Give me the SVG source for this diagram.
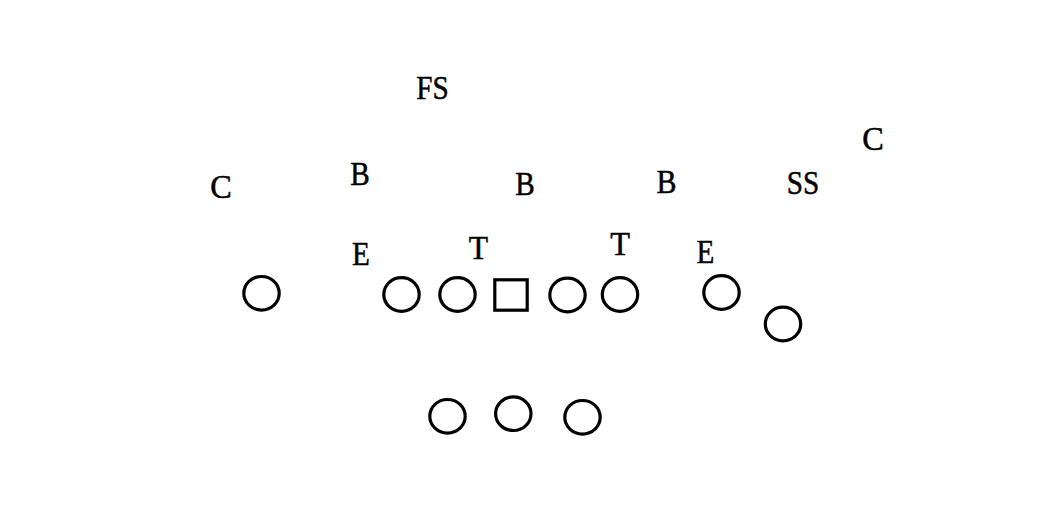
<svg xmlns="http://www.w3.org/2000/svg" width="1062" height="512" viewBox="0 0 1062 512">
<style>
.p{fill:none;stroke:#000;stroke-width:3.2}
.t{font-family:"Liberation Serif","Times New Roman",serif;font-size:34px;fill:#000;stroke:#000;stroke-width:0.5;text-anchor:middle}
</style>
<rect width="1062" height="512" fill="#fff"/>
<g id="offense">
<g id="o-wr-left"><ellipse class="p" cx="261.5" cy="293.3" rx="17.7" ry="16.8"/></g>
<g id="o-lt"><ellipse class="p" cx="401.5" cy="294.5" rx="17.7" ry="16.8"/></g>
<g id="o-lg"><ellipse class="p" cx="457.5" cy="294.5" rx="17.7" ry="16.8"/></g>
<g id="o-center"><rect class="p" x="494.8" y="279.8" width="32.4" height="30.4"/></g>
<g id="o-rg"><ellipse class="p" cx="567.5" cy="295" rx="17.7" ry="16.8"/></g>
<g id="o-rt"><ellipse class="p" cx="620" cy="294.5" rx="17.7" ry="16.8"/></g>
<g id="o-te"><ellipse class="p" cx="721.5" cy="292.5" rx="17.7" ry="16.8"/></g>
<g id="o-wr-right"><ellipse class="p" cx="783" cy="324" rx="17.7" ry="16.8"/></g>
<g id="o-back-left"><ellipse class="p" cx="447.5" cy="416.3" rx="17.7" ry="16.8"/></g>
<g id="o-back-mid"><ellipse class="p" cx="513.3" cy="413.7" rx="17.7" ry="16.8"/></g>
<g id="o-back-right"><ellipse class="p" cx="582.5" cy="417.3" rx="17.7" ry="16.8"/></g>
</g>
<g id="defense">
<g id="d-fs"><text class="t" transform="translate(432.5 99) scale(0.86 1)">FS</text></g>
<g id="d-c-left"><text class="t" transform="translate(221 197.5) scale(0.95 1)">C</text></g>
<g id="d-b-left"><text class="t" transform="translate(360 185) scale(0.86 1)">B</text></g>
<g id="d-b-mid"><text class="t" transform="translate(525 195) scale(0.86 1)">B</text></g>
<g id="d-b-right"><text class="t" transform="translate(666.5 193) scale(0.88 1)">B</text></g>
<g id="d-ss"><text class="t" transform="translate(803 193.5) scale(0.86 1)">SS</text></g>
<g id="d-c-right"><text class="t" transform="translate(873 149.5) scale(0.95 1)">C</text></g>
<g id="d-e-left"><text class="t" transform="translate(361 265) scale(0.86 1)">E</text></g>
<g id="d-t-left"><text class="t" transform="translate(478.5 258.5) scale(0.93 1)">T</text></g>
<g id="d-t-right"><text class="t" transform="translate(620 255) scale(0.95 1)">T</text></g>
<g id="d-e-right"><text class="t" transform="translate(705.5 262.5) scale(0.86 1)">E</text></g>
</g>
<g id="connectors"></g>
</svg>
